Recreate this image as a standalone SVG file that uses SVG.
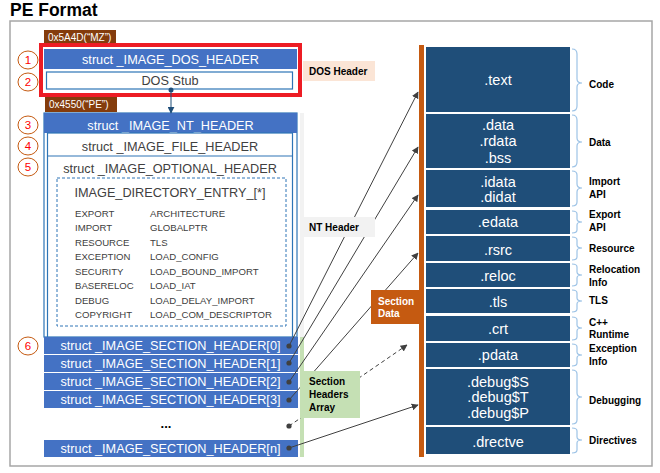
<svg xmlns="http://www.w3.org/2000/svg" width="660" height="473" viewBox="0 0 660 473">
<style>
text{font-family:"Liberation Sans",Arial,sans-serif}
.title{font-size:17.5px;font-weight:bold;fill:#000}
.bar{fill:#4472c4}
.wt{fill:#fff;font-size:12.7px;text-anchor:middle}
.dk{fill:#404040;font-size:12.7px;text-anchor:middle}
.box{fill:#fff;stroke:#2e75b6;stroke-width:1.2}
.dir{fill:#404040;font-size:9.6px}
.num{fill:#fff;stroke:#c55a11;stroke-width:1}
.numt{fill:#ff0000;font-size:11.5px;text-anchor:middle}
.brown{fill:#843c0c}
.bt{fill:#fff;font-size:10px}
.lbl{font-size:10px;font-weight:bold;fill:#000}
.sec{fill:#1f4e79}
.st{fill:#fff;font-size:14.5px;text-anchor:middle}
.brace{fill:none;stroke:#9dc3e6;stroke-width:1.2}
.conn{stroke:#404040;stroke-width:1;fill:none}
.dot{fill:#404040}
</style>
<defs>
<marker id="ah" viewBox="0 0 10 10" refX="9" refY="5" markerWidth="7" markerHeight="7" markerUnits="userSpaceOnUse" orient="auto">
<path d="M0,0 L10,5 L0,10 z" fill="#404040"/>
</marker>
<marker id="ahb" viewBox="0 0 10 10" refX="9" refY="5" markerWidth="7" markerHeight="7" markerUnits="userSpaceOnUse" orient="auto">
<path d="M0,0 L10,5 L0,10 z" fill="#1f4e79"/>
</marker>
</defs>
<rect x="0" y="0" width="660" height="473" fill="#fff"/>
<text class="title" x="10" y="16">PE Format</text>
<rect x="10" y="21" width="642" height="445" fill="none" stroke="#a6a6a6" stroke-width="1.5"/>

<g id="strips">
<rect x="300" y="113" width="4" height="224" fill="#f2f2f2"/>
<rect x="300" y="337" width="4" height="120" fill="#c5e0b4"/>
</g>

<g id="dos-header">
<rect class="brown" x="44" y="30" width="72" height="13"/>
<text class="bt" x="48" y="40.5">0x5A4D(“MZ”)</text>
<rect class="bar" x="44" y="49" width="253" height="20"/>
<text class="wt" x="170.5" y="63.5">struct _IMAGE_DOS_HEADER</text>
<rect class="box" x="46.5" y="72" width="246" height="17"/>
<text class="dk" x="170" y="85">DOS Stub</text>
<rect x="41" y="45" width="259" height="50" fill="none" stroke="#ed1c24" stroke-width="4"/>
<rect class="brown" x="45" y="97" width="72" height="15"/>
<text class="bt" x="49" y="108">0x4550(“PE”)</text>
</g>

<g id="nt-header">
<rect class="box" x="44" y="113" width="253" height="224"/>
<rect class="bar" x="44" y="113" width="253" height="20"/>
<text class="wt" x="170.5" y="129.5">struct _IMAGE_NT_HEADER</text>
<rect class="box" x="47.5" y="133" width="245" height="204"/>
<line x1="47.5" y1="156" x2="292.5" y2="156" stroke="#2e75b6" stroke-width="1.2"/>
<text class="dk" x="170" y="150.5">struct _IMAGE_FILE_HEADER</text>
<text class="dk" x="170" y="172.5">struct _IMAGE_OPTIONAL_HEADER</text>
<rect x="57" y="178" width="229" height="148" fill="none" stroke="#2e75b6" stroke-width="1" stroke-dasharray="3,2"/>
<text class="dk" x="170" y="196.5">IMAGE_DIRECTORY_ENTRY_[*]</text>
<g class="dir">
<text x="75" y="216.5">EXPORT</text><text x="150" y="216.5">ARCHITECTURE</text>
<text x="75" y="231">IMPORT</text><text x="150" y="231">GLOBALPTR</text>
<text x="75" y="245.5">RESOURCE</text><text x="150" y="245.5">TLS</text>
<text x="75" y="260">EXCEPTION</text><text x="150" y="260">LOAD_CONFIG</text>
<text x="75" y="274.5">SECURITY</text><text x="150" y="274.5">LOAD_BOUND_IMPORT</text>
<text x="75" y="289">BASERELOC</text><text x="150" y="289">LOAD_IAT</text>
<text x="75" y="303.5">DEBUG</text><text x="150" y="303.5">LOAD_DELAY_IMPORT</text>
<text x="75" y="318">COPYRIGHT</text><text x="150" y="318">LOAD_COM_DESCRIPTOR</text>
</g>
</g>

<g id="section-headers">
<rect class="bar" x="44" y="337" width="254" height="17"/>
<text class="wt" x="170.5" y="350">struct _IMAGE_SECTION_HEADER[0]</text>
<rect class="bar" x="44" y="355" width="254" height="17"/>
<text class="wt" x="170.5" y="368">struct _IMAGE_SECTION_HEADER[1]</text>
<rect class="bar" x="44" y="373" width="254" height="17"/>
<text class="wt" x="170.5" y="386">struct _IMAGE_SECTION_HEADER[2]</text>
<rect class="bar" x="44" y="391" width="254" height="17"/>
<text class="wt" x="170.5" y="404">struct _IMAGE_SECTION_HEADER[3]</text>
<text x="166" y="428" font-size="13" font-weight="bold" fill="#000" text-anchor="middle">...</text>
<rect class="bar" x="44" y="440" width="254" height="17"/>
<text class="wt" x="170.5" y="453">struct _IMAGE_SECTION_HEADER[n]</text>
</g>

<g id="markers">
<ellipse class="num" cx="28" cy="60" rx="10" ry="9"/><text class="numt" x="28" y="64">1</text>
<ellipse class="num" cx="28" cy="82" rx="10" ry="9"/><text class="numt" x="28" y="86">2</text>
<ellipse class="num" cx="28" cy="125" rx="10" ry="9"/><text class="numt" x="28" y="129">3</text>
<ellipse class="num" cx="28" cy="146" rx="10" ry="9"/><text class="numt" x="28" y="150">4</text>
<ellipse class="num" cx="28" cy="167" rx="10" ry="9"/><text class="numt" x="28" y="171">5</text>
<ellipse class="num" cx="28" cy="346" rx="10" ry="9"/><text class="numt" x="28" y="350">6</text>
</g>

<g id="sections">
<rect x="419" y="45" width="5" height="412" fill="#c55a11"/>
<rect class="sec" x="426" y="47" width="144" height="65"/>
<text class="st" x="498" y="85">.text</text>
<rect class="sec" x="426" y="114" width="144" height="54"/>
<text class="st" x="498" y="130">.data</text><text class="st" x="498" y="146">.rdata</text><text class="st" x="498" y="163">.bss</text>
<rect class="sec" x="426" y="170" width="144" height="37"/>
<text class="st" x="498" y="187">.idata</text><text class="st" x="498" y="202">.didat</text>
<rect class="sec" x="426" y="210" width="144" height="24"/>
<text class="st" x="498" y="227">.edata</text>
<rect class="sec" x="426" y="236" width="144" height="25"/>
<text class="st" x="498" y="255">.rsrc</text>
<rect class="sec" x="426" y="263" width="144" height="24"/>
<text class="st" x="498" y="281">.reloc</text>
<rect class="sec" x="426" y="289" width="144" height="24"/>
<text class="st" x="498" y="307">.tls</text>
<rect class="sec" x="426" y="316" width="144" height="25"/>
<text class="st" x="498" y="334">.crt</text>
<rect class="sec" x="426" y="343" width="144" height="24"/>
<text class="st" x="498" y="360">.pdata</text>
<rect class="sec" x="426" y="369" width="144" height="56"/>
<text class="st" x="498" y="387">.debug$S</text><text class="st" x="498" y="402">.debug$T</text><text class="st" x="498" y="418">.debug$P</text>
<rect class="sec" x="426" y="427" width="144" height="27"/>
<text class="st" x="498" y="447">.drectve</text>
</g>

<g id="braces">
<path class="brace" d="M572,49 Q577,49 577,54 L577,79 Q577,83 582,83 Q577,83 577,87 L577,106 Q577,111 572,111"/>
<path class="brace" d="M572,115 Q577,115 577,120 L577,138 Q577,142 582,142 Q577,142 577,146 L577,162 Q577,167 572,167"/>
<path class="brace" d="M572,171 Q577,171 577,175 L577,184 Q577,188 582,188 Q577,188 577,192 L577,202 Q577,206 572,206"/>
<path class="brace" d="M572,211 Q577,211 577,214 L577,219 Q577,222 582,222 Q577,222 577,225 L577,230 Q577,233 572,233"/>
<path class="brace" d="M572,237 Q577,237 577,240 L577,245 Q577,248 582,248 Q577,248 577,251 L577,257 Q577,260 572,260"/>
<path class="brace" d="M572,264 Q577,264 577,267 L577,272 Q577,275 582,275 Q577,275 577,278 L577,283 Q577,286 572,286"/>
<path class="brace" d="M572,290 Q577,290 577,293 L577,298 Q577,301 582,301 Q577,301 577,304 L577,309 Q577,312 572,312"/>
<path class="brace" d="M572,317 Q577,317 577,320 L577,325 Q577,328 582,328 Q577,328 577,331 L577,337 Q577,340 572,340"/>
<path class="brace" d="M572,344 Q577,344 577,347 L577,352 Q577,355 582,355 Q577,355 577,358 L577,363 Q577,366 572,366"/>
<path class="brace" d="M572,370 Q577,370 577,374 L577,393 Q577,397 582,397 Q577,397 577,401 L577,420 Q577,424 572,424"/>
<path class="brace" d="M572,428 Q577,428 577,431 L577,437 Q577,440 582,440 Q577,440 577,443 L577,450 Q577,453 572,453"/>
</g>

<g id="section-labels" class="lbl">
<text x="589" y="87.5">Code</text>
<text x="589" y="145.5">Data</text>
<text x="589" y="184.5">Import</text><text x="589" y="197.5">API</text>
<text x="589" y="217.5">Export</text><text x="589" y="230.5">API</text>
<text x="589" y="251.5">Resource</text>
<text x="589" y="272.5">Relocation</text><text x="589" y="285.5">Info</text>
<text x="589" y="303.5">TLS</text>
<text x="589" y="325.5">C++</text><text x="589" y="338">Runtime</text>
<text x="589" y="351.5">Exception</text><text x="589" y="364.5">Info</text>
<text x="589" y="403.5">Debugging</text>
<text x="589" y="443.5">Directives</text>
</g>

<g id="connectors">
<circle cx="171" cy="90" r="2.5" fill="#1f4e79"/>
<line x1="171" y1="90" x2="171" y2="113" stroke="#1f4e79" stroke-width="1" marker-end="url(#ahb)"/>
<line class="conn" x1="289" y1="346" x2="418" y2="92" marker-end="url(#ah)"/>
<line class="conn" x1="289" y1="363" x2="418" y2="147" marker-end="url(#ah)"/>
<line class="conn" x1="289" y1="382" x2="418" y2="195" marker-end="url(#ah)"/>
<line class="conn" x1="289" y1="400" x2="418" y2="253" marker-end="url(#ah)"/>
<line class="conn" x1="289" y1="426" x2="407" y2="345" stroke-dasharray="4,3" marker-end="url(#ah)"/>
<line class="conn" x1="289" y1="448" x2="418" y2="405" marker-end="url(#ah)"/>
<circle class="dot" cx="289" cy="346" r="2.6"/>
<circle class="dot" cx="289" cy="363" r="2.6"/>
<circle class="dot" cx="289" cy="382" r="2.6"/>
<circle class="dot" cx="289" cy="400" r="2.6"/>
<circle class="dot" cx="289" cy="426" r="2.6"/>
<circle class="dot" cx="289" cy="448" r="2.6"/>
</g>

<g id="label-dos">
<rect x="303" y="61" width="72" height="20" fill="#fbe5d6"/>
<text class="lbl" x="309" y="74.5">DOS Header</text>
</g>
<g id="label-nt">
<rect x="303" y="217" width="72" height="20" fill="#f2f2f2"/>
<text class="lbl" x="309" y="230.5">NT Header</text>
</g>
<g id="label-sha">
<rect x="300" y="371" width="60" height="47" fill="#c5e0b4"/>
<text class="lbl" x="309" y="384.5">Section</text>
<text class="lbl" x="309" y="397.5">Headers</text>
<text class="lbl" x="309" y="411">Array</text>
</g>
<g id="label-sd">
<rect x="371" y="290" width="53" height="34" fill="#c55a11"/>
<text x="378" y="304.5" font-size="10" font-weight="bold" fill="#fff">Section</text>
<text x="378" y="317" font-size="10" font-weight="bold" fill="#fff">Data</text>
</g>
</svg>
